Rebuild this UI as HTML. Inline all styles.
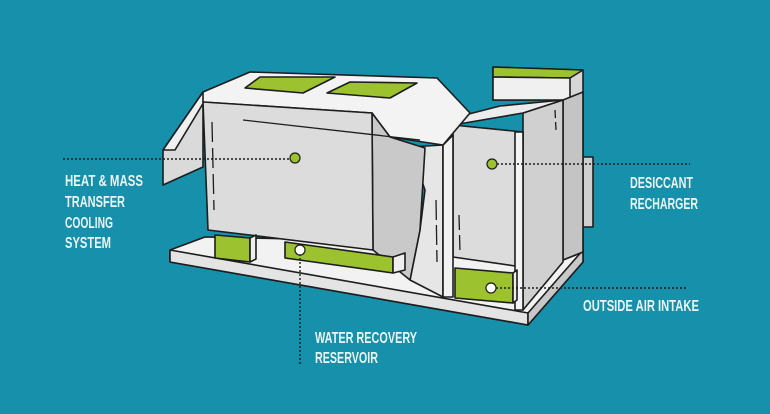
<!DOCTYPE html>
<html><head><style>
html,body{margin:0;padding:0;background:#1690ab;}
svg{display:block}
text{font-family:"Liberation Sans",sans-serif;font-weight:bold;fill:#eaf6f8;font-size:16px;}
</style></head><body>
<svg width="770" height="414" viewBox="0 0 770 414">
<rect width="770" height="414" fill="#1690ab"/>
<g stroke="#1d1d1d" stroke-width="1.6" stroke-linejoin="round">
<polygon points="170,250 205,237 583,245 583,262 528,325 170,262" fill="#f2f2f2"/>
<polygon points="170,250 528,313 528,325 170,262" fill="#e4e4e4"/>
<polygon points="528,313 583,250 583,262 528,325" fill="#c8c8c8"/>
<rect x="580" y="157" width="13" height="70" fill="#cfcfcf"/>
<polygon points="493,67 583,70 583,252 563,260 563,100 493,100" fill="#d6d6d6"/>
<polygon points="493,67 583,70 570,78 493,77" fill="#9cc230"/>
<polygon points="493,77 570,78 570,100 493,100" fill="#f0f0f0"/>
<polygon points="563,100 583,92 583,252 563,260" fill="#c4c4c4"/>
<polygon points="523,113 563,100 563,262 523,310" fill="#d0d0d0"/>
<polygon points="465,115 500,106 563,100 523,113 453,125" fill="#ececec"/>
<polygon points="410,147 443,145 443,297 410,280 420,230 425,190" fill="#e6e6e6"/>
<polygon points="453,125 523,132 522,267 453,257" fill="#dcdcdc"/>
<polygon points="443,145 453,135 453,257 453,297 443,297" fill="#f2f2f2"/>
<polygon points="515,132 523,132 523,310 515,310" fill="#f4f4f4"/>
<polygon points="163,150 203,92 203,167 163,185" fill="#dadada"/>
<polygon points="163,150 203,92 210,92 175,150" fill="#f0f0f0"/>
<polygon points="203,92 250,72 437,78 470,113 443,145 390,137 372,113 203,102" fill="#f3f3f3"/>
<polygon points="260,77 335,77 303,93 245,88" fill="#9cc230"/>
<polygon points="350,82 417,83 390,98 327,93" fill="#9cc230"/>
<polygon points="372,113 390,137 425,148 420,230 410,280 373,250" fill="#c9c9c9"/>
<polygon points="203,102 372,113 373,250 208,230" fill="#dcdcdc"/>
<polygon points="215,235 250,238 250,262 215,258" fill="#9cc230"/>
<polygon points="250,238 256,235 256,259 250,262" fill="#eee"/>
<polygon points="285,242 393,257 393,273 285,258" fill="#9cc230"/>
<polygon points="393,257 405,253 405,270 393,273" fill="#eee"/>
<polygon points="455,268 513,273 513,303 455,298" fill="#9cc230"/>
<polygon points="513,273 517,270 517,300 513,303" fill="#eee"/>
</g>
<g stroke="#1d1d1d" stroke-width="1.3" fill="none">
<line x1="243" y1="120" x2="420" y2="140"/>
<line x1="212" y1="122" x2="214" y2="210" stroke-dasharray="20,6"/>
<line x1="436" y1="200" x2="437" y2="262" stroke-dasharray="20,5"/>
<line x1="459" y1="215" x2="460" y2="252" stroke-dasharray="15,5"/>
<line x1="555" y1="110" x2="556" y2="130" stroke-dasharray="8,4"/>
</g>
<g stroke="#1d1d1d" stroke-width="1.4" stroke-dasharray="2,2" fill="none">
<line x1="63" y1="159" x2="291" y2="159"/>
<line x1="497" y1="164" x2="690" y2="164"/>
<line x1="300" y1="254" x2="300" y2="364"/>
<line x1="496" y1="288" x2="688" y2="288"/>
</g>
<g stroke="#1d1d1d" stroke-width="1.2">
<circle cx="295" cy="158" r="5" fill="#9cc230"/>
<circle cx="492" cy="164" r="5" fill="#9cc230"/>
<circle cx="300" cy="250" r="5" fill="#fff"/>
<circle cx="491" cy="288" r="5" fill="#fff"/>
</g>
<text x="65" y="186" textLength="78" lengthAdjust="spacingAndGlyphs">HEAT &amp; MASS</text>
<text x="65" y="207" textLength="60" lengthAdjust="spacingAndGlyphs">TRANSFER</text>
<text x="65" y="228" textLength="48" lengthAdjust="spacingAndGlyphs">COOLING</text>
<text x="65" y="248" textLength="46" lengthAdjust="spacingAndGlyphs">SYSTEM</text>
<text x="630" y="188" textLength="63" lengthAdjust="spacingAndGlyphs">DESICCANT</text>
<text x="630" y="209" textLength="68" lengthAdjust="spacingAndGlyphs">RECHARGER</text>
<text x="583" y="311" textLength="116" lengthAdjust="spacingAndGlyphs">OUTSIDE AIR INTAKE</text>
<text x="315" y="343" textLength="102" lengthAdjust="spacingAndGlyphs">WATER RECOVERY</text>
<text x="315" y="363" textLength="63" lengthAdjust="spacingAndGlyphs">RESERVOIR</text>
</svg>
</body></html>
